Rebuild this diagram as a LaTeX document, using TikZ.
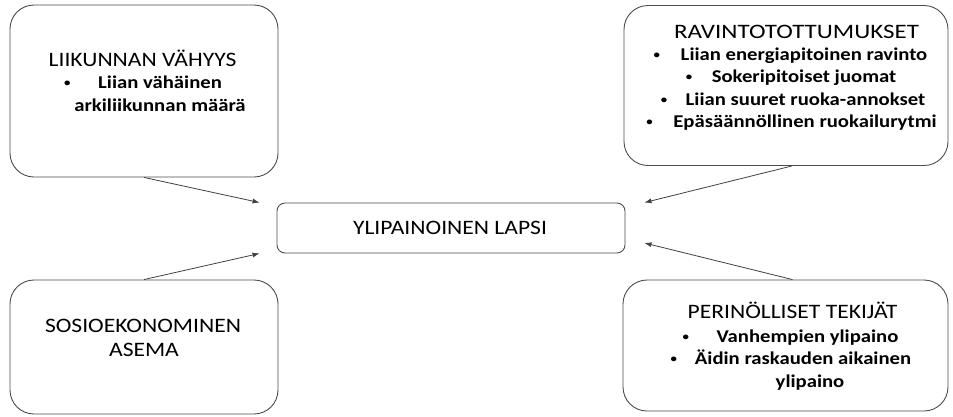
\documentclass[tikz,border=0pt]{standalone}
\usepackage{graphicx}
\usepackage{fontspec}
\setmainfont{Carlito}
\usetikzlibrary{calc,arrows.meta}
% horizontally widened text, and a small list bullet hanging left of its line
\newcommand{\wide}[1]{\scalebox{1.15}[1]{#1}}
\newcommand{\bul}[1]{\llap{\raisebox{1.6pt}{\scalebox{0.62}{\textbullet}}\hspace{#1pt}}}

\begin{document}
\begin{tikzpicture}[x=1pt,y=-1pt,
  box/.style={draw=black!70, line width=0.9pt, rounded corners=24pt, inner sep=0pt},
  core/.style={draw=black!70, line width=0.9pt, rounded corners=8pt, inner sep=0pt},
  head/.style={font=\fontsize{20.5}{24}\selectfont, inner sep=0pt, anchor=base},
  item/.style={font=\fontsize{18}{22}\selectfont\bfseries, inner sep=0pt, anchor=base},
  link/.style={draw=black!75, line width=0.8pt, -{Latex[length=7pt,width=5pt]}}]
\useasboundingbox (0,0) rectangle (953,416);

% factor boxes and the central outcome
\node[box, minimum width=268pt, minimum height=172pt] (tl) at (144,91) {};
\node[box, minimum width=324pt, minimum height=160pt] (tr) at (786,85.5) {};
\node[box, minimum width=268pt, minimum height=134pt] (bl) at (144,347) {};
\node[box, minimum width=325pt, minimum height=131pt] (br) at (785.5,345.5) {};
\node[core, minimum width=348pt, minimum height=50pt] (c) at (451,228) {};

% texts
\node[head] (tlh) at (142.5,66.5) {\wide{LIIKUNNAN VÄHYYS}};
\node[item] (tl1) at (160,88) {\wide{\bul{24}Liian vähäinen}};
\node[item] (tl2) at (160,111) {\wide{arkiliikunnan määrä}};

\node[head] (trh) at (796.5,38.5) {\scalebox{1.06}[1]{\wide{RAVINTOTOTTUMUKSET}}};
\node[item] (tr1) at (804,60) {\wide{\bul{18}Liian energiapitoinen ravinto}};
\node[item] (tr2) at (804,82.5) {\wide{\bul{17}Sokeripitoiset juomat}};
\node[item] (tr3) at (805.5,105) {\wide{\bul{16}Liian suuret ruoka-annokset}};
\node[item] (tr4) at (805,127.5) {\wide{\bul{18}Epäsäännöllinen ruokailurytmi}};

\node[head] (blh) at (143,332.5) {\wide{SOSIOEKONOMINEN}};
\node[head] (bl2) at (144,356.5) {\wide{ASEMA}};

\node[head] (brh) at (792.5,318.5) {\wide{PERINÖLLISET TEKIJÄT}};
\node[item] (br1) at (807.5,342) {\wide{\bul{24}Vanhempien ylipaino}};
\node[item] (br2) at (803,364.5) {\wide{\bul{15.5}Äidin raskauden aikainen}};
\node[item] (br3) at (810,387) {\wide{ylipaino}};

\node[head] (ch) at (450,234.5) {\wide{YLIPAINOINEN LAPSI}};

% connectors towards the outcome
\draw[link] (tl.south) -- ($(c.north west)+(-17,0)$);
\draw[link] (bl.north) -- ($(c.south west)+(-17,0)$);
\draw[link] ($(tr.south)+(6,0)$) -- ($(c.north east)+(19,0)$);
\draw[link] ($(br.north)+(7,0)$) -- ($(c.east)+(19,15)$);
\end{tikzpicture}
\end{document}
